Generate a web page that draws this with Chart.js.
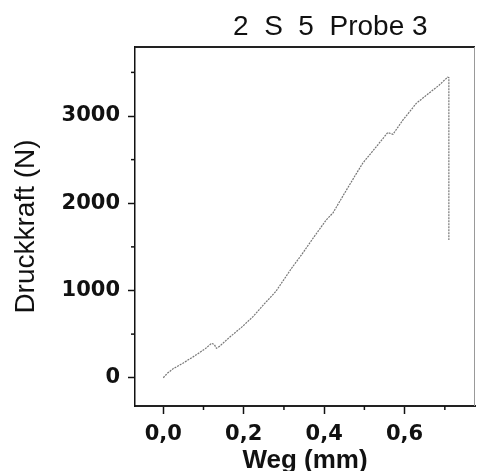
<!DOCTYPE html>
<html>
<head>
<meta charset="utf-8">
<script src="https://cdn.jsdelivr.net/npm/chart.js@4"></script>
<style>
  body { margin: 0; background: #fff; }
  canvas { display: block; }
</style>
</head>
<body>
<canvas id="chart" width="477" height="471"></canvas>
<script>
// Weg (mm) and Druckkraft (N)
const wegMm = [
  0.000, 0.010, 0.025, 0.050, 0.083, 0.105, 0.120, 0.127, 0.132, 0.140,
  0.165, 0.195, 0.223, 0.250, 0.280, 0.319, 0.347, 0.371, 0.405, 0.422,
  0.450, 0.480, 0.496, 0.530, 0.558, 0.571, 0.596, 0.629, 0.660, 0.685,
  0.707, 0.710, 0.710,
];
const druckkraftN = [
  0, 50, 105, 170, 265, 335, 395, 380, 338, 360,
  465, 580, 700, 840, 990, 1255, 1430, 1590, 1808, 1890,
  2110, 2340, 2460, 2650, 2810, 2790, 2955, 3145, 3260, 3350,
  3445, 3440, 1580,
];

const chartTitle = "2  S  5  Probe 3";
const xTicks = [0, 0.2, 0.4, 0.6];
const yTicks = [0, 1000, 2000, 3000];
const xMinorTicks = [0.1, 0.3, 0.5, 0.7];
const yMinorTicks = [500, 1500, 2500, 3500];

const points = wegMm.map((x, i) => ({ x: x, y: druckkraftN[i] }));

// frame: top and right border, minor ticks, title
const framePlugin = {
  id: "frame",
  afterDraw(chart) {
    const { ctx, chartArea, scales } = chart;
    ctx.save();
    ctx.strokeStyle = "#222";
    ctx.lineWidth = 2;
    ctx.beginPath();
    ctx.moveTo(chartArea.left, chartArea.top);
    ctx.lineTo(chartArea.right, chartArea.top);
    ctx.stroke();
    ctx.strokeStyle = "#999";
    ctx.lineWidth = 1;
    ctx.beginPath();
    ctx.moveTo(chartArea.right - 0.5, chartArea.top);
    ctx.lineTo(chartArea.right - 0.5, chartArea.bottom);
    ctx.stroke();

    ctx.strokeStyle = "#111";
    ctx.lineWidth = 1.5;
    xMinorTicks.forEach((v) => {
      const px = scales.x.getPixelForValue(v);
      ctx.beginPath();
      ctx.moveTo(px, chartArea.bottom);
      ctx.lineTo(px, chartArea.bottom + 4);
      ctx.stroke();
    });
    yMinorTicks.forEach((v) => {
      const py = scales.y.getPixelForValue(v);
      ctx.beginPath();
      ctx.moveTo(chartArea.left - 4, py);
      ctx.lineTo(chartArea.left, py);
      ctx.stroke();
    });

    ctx.fillStyle = "#111";
    ctx.font = "28px 'Liberation Sans', Arial, sans-serif";
    ctx.textAlign = "left";
    ctx.textBaseline = "alphabetic";
    ctx.fillText(chartTitle, 233, 35);
    ctx.restore();
  },
};

new Chart(document.getElementById("chart"), {
  type: "line",
  data: {
    datasets: [
      {
        data: points,
        borderColor: "#777",
        borderWidth: 1.2,
        borderDash: [2, 1],
        pointRadius: 0,
        tension: 0,
        fill: false,
      },
    ],
  },
  options: {
    responsive: false,
    animation: false,
    events: [],
    layout: { padding: { top: 47, right: 2, left: 0, bottom: 0 } },
    plugins: {
      legend: { display: false },
      tooltip: { enabled: false },
    },
    scales: {
      x: {
        type: "linear",
        min: -0.0703,
        max: 0.775,
        afterFit: (scale) => { scale.height = 65; },
        afterBuildTicks: (scale) => { scale.ticks = xTicks.map((v) => ({ value: v })); },
        ticks: {
          padding: 8,
          color: "#111",
          font: { family: "'DejaVu Sans', sans-serif", size: 21, weight: "bold" },
          callback: (v) => v.toFixed(1).replace(".", ","),
        },
        grid: {
          display: true,
          drawOnChartArea: false,
          drawTicks: true,
          tickLength: 8,
          tickColor: "#111",
          tickWidth: 1.5,
        },
        border: { display: true, color: "#222", width: 2 },
        title: {
          display: true,
          text: "Weg (mm)",
          color: "#111",
          font: { family: "'Liberation Sans', Arial, sans-serif", size: 26, weight: "bold", lineHeight: 0.8 },
          padding: { top: 0, bottom: 0 },
        },
      },
      y: {
        type: "linear",
        min: -324,
        max: 3791,
        afterFit: (scale) => { scale.width = 135; },
        afterBuildTicks: (scale) => { scale.ticks = yTicks.map((v) => ({ value: v })); },
        ticks: {
          padding: 8,
          color: "#111",
          font: { family: "'DejaVu Sans', sans-serif", size: 21, weight: "bold" },
          callback: (v) => String(v),
        },
        grid: {
          display: true,
          drawOnChartArea: false,
          drawTicks: true,
          tickLength: 7,
          tickColor: "#111",
          tickWidth: 1.5,
        },
        border: { display: true, color: "#111", width: 1.5 },
        title: {
          display: true,
          text: "Druckkraft (N)",
          color: "#111",
          font: { family: "'Liberation Sans', Arial, sans-serif", size: 28, weight: "normal", lineHeight: 1.2 },
          padding: { top: 9, bottom: 0 },
        },
      },
    },
  },
  plugins: [framePlugin],
});
</script>
</body>
</html>
